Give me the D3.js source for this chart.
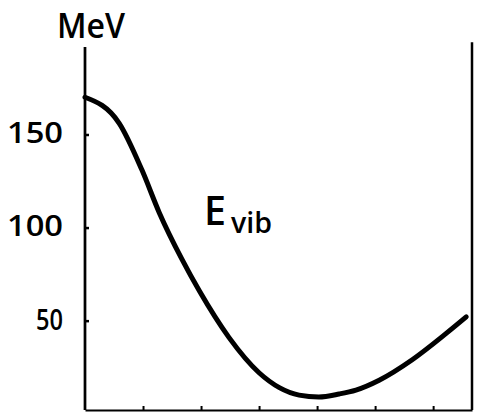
<!DOCTYPE html>
<html><head><meta charset="utf-8">
<script src="https://cdn.jsdelivr.net/npm/d3@7"></script>
<style>
html,body{margin:0;padding:0;background:#fff;}
svg{display:block;}
text{font-family:"Open Sans", "Noto Sans", sans-serif;fill:#000;}
</style></head>
<body>
<script>
// Data
const xPos = [0, 0.59, 0.98, 1.28, 1.67, 1.97, 2.48, 3.0, 3.35, 3.69, 4.03, 4.38, 4.67, 5.07, 5.64, 6.22, 6.57];
const eVib = [170, 156, 131, 108, 83, 66, 41, 22, 14, 10, 9, 10.6, 12.7, 18, 29, 43, 52];
const yTickValues = [50, 100, 150];
const yTickLabels = ["50", "100", "150"];
const xTickValues = [1, 2, 3, 4, 5, 6];
const yUnit = "MeV";
const seriesLabel = "E";
const seriesSub = "vib";

const W = 478, H = 417;
const mLeft = 85, mRight = 472, mTop = 47, mBottom = 410;

const svg = d3.select("body").append("svg").attr("width", W).attr("height", H);

const x = d3.scaleLinear().domain([0, 6.67]).range([mLeft, mRight]);
const y = d3.scaleLinear().domain([2, 197]).range([mBottom, mTop]);

// Left axis
const yAxis = d3.axisLeft(y).tickValues(yTickValues)
  .tickFormat((d, i) => yTickLabels[i]).tickSizeInner(-4).tickSizeOuter(0).tickPadding(22);
const gy = svg.append("g").attr("transform", `translate(${mLeft},0)`).call(yAxis);
gy.select(".domain").attr("stroke", "#000").attr("stroke-width", 2.4)
  .attr("d", `M0,${y(197)}V${mBottom}`);
gy.selectAll(".tick line").attr("stroke", "#000").attr("stroke-width", 2.5);
gy.selectAll(".tick text").attr("font-size", 28).attr("font-weight", 600).attr("dy", "0.3em")
  .attr("textLength", (d, i) => yTickLabels[i].length === 3 ? 56 : 27)
  .attr("lengthAdjust", "spacingAndGlyphs").style("font-family", "'Open Sans', sans-serif");
// explicit left frame line
svg.append("line").attr("x1", x(0)).attr("x2", x(0)).attr("y1", y(197)).attr("y2", mBottom)
  .attr("stroke", "#000").attr("stroke-width", 2.4);

// Bottom axis
const xAxis = d3.axisBottom(x).tickValues(xTickValues).tickFormat("")
  .tickSizeInner(-4).tickSizeOuter(0);
const gx = svg.append("g").attr("transform", `translate(0,${mBottom})`).call(xAxis);
gx.select(".domain").attr("stroke", "#000").attr("stroke-width", 2.2);
gx.selectAll(".tick line").attr("stroke", "#000").attr("stroke-width", 2);

// Right frame line
const yRight = d3.axisRight(y).tickValues([]).tickSizeOuter(0);
const gr = svg.append("g").attr("transform", `translate(${mRight},0)`).call(yRight);
gr.select(".domain").attr("stroke", "#000").attr("stroke-width", 2.5)
  .attr("d", `M0,${y(199.5)}V${mBottom}`);

// Curve
const line = d3.line().x((d, i) => x(xPos[i])).y(d => y(d)).curve(d3.curveMonotoneX);
svg.append("path").datum(eVib).attr("d", line)
  .attr("fill", "none").attr("stroke", "#000").attr("stroke-width", 5)
  .attr("stroke-linecap", "round").attr("stroke-linejoin", "round");

// Unit label
svg.append("text").attr("x", 57).attr("y", 38).attr("font-size", 35).attr("font-weight", 600)
  .attr("textLength", 68).attr("lengthAdjust", "spacingAndGlyphs").text(yUnit);

// Series label
const lab = svg.append("text").attr("x", 204).attr("y", 225).attr("font-weight", 600);
lab.append("tspan").attr("font-size", 40).attr("textLength", 22)
  .attr("lengthAdjust", "spacingAndGlyphs").text(seriesLabel);
lab.append("tspan").attr("x", 231).attr("y", 233).attr("font-size", 28)
  .attr("textLength", 41).attr("lengthAdjust", "spacingAndGlyphs").text(seriesSub);
</script>
</body></html>
